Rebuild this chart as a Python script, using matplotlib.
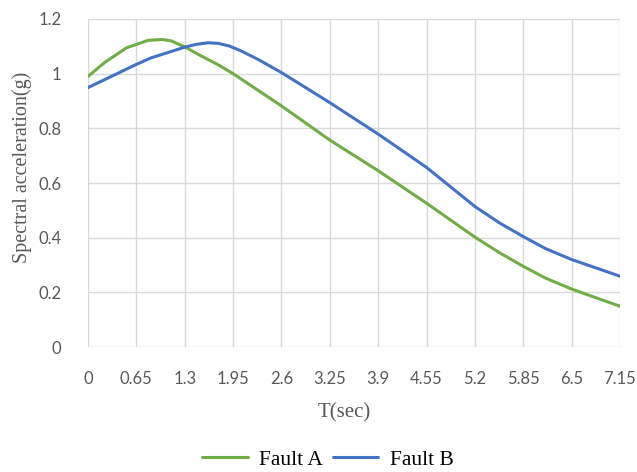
import numpy as np
import matplotlib.pyplot as plt

# periods (sec) and spectral accelerations (g)
t_a = [0, 0.22, 0.52, 0.65, 0.81, 1.0, 1.12, 1.3, 1.52, 1.74, 1.95, 2.6,
       3.25, 3.9, 4.55, 5.2, 5.53, 5.85, 6.15, 6.5, 7.15]
fault_a = [0.99, 1.04, 1.095, 1.107, 1.122, 1.125, 1.12, 1.098, 1.065, 1.034,
           1.0, 0.882, 0.757, 0.645, 0.526, 0.402, 0.345, 0.295, 0.252, 0.212, 0.149]

t_b = [0, 0.65, 0.85, 1.3, 1.45, 1.61, 1.75, 1.9, 2.06, 2.3, 2.6, 3.25, 3.9,
       4.55, 5.2, 5.53, 5.85, 6.15, 6.5, 7.15]
fault_b = [0.949, 1.034, 1.058, 1.097, 1.107, 1.113, 1.111, 1.101, 1.083, 1.05,
           1.004, 0.894, 0.779, 0.657, 0.514, 0.454, 0.404, 0.36, 0.32, 0.259]

xticks = [0, 0.65, 1.3, 1.95, 2.6, 3.25, 3.9, 4.55, 5.2, 5.85, 6.5, 7.15]
xtick_labels = ['0', '0.65', '1.3', '1.95', '2.6', '3.25', '3.9', '4.55', '5.2',
                '5.85', '6.5', '7.15']
yticks = [0, 0.2, 0.4, 0.6, 0.8, 1, 1.2]
ytick_labels = ['0', '0.2', '0.4', '0.6', '0.8', '1', '1.2']

W, H = 637, 472
fig = plt.figure(figsize=(W / 100, H / 100), dpi=100)
ax = fig.add_axes([88 / W, 1 - 347 / H, 532 / W, 328 / H])

ax.plot(t_a, fault_a, color='#70AD47', lw=2.2, label='Fault A',
        solid_joinstyle='round', solid_capstyle='round')
ax.plot(t_b, fault_b, color='#4472C4', lw=2.2, label='Fault B',
        solid_joinstyle='round', solid_capstyle='round')

ax.set_xlim(0, 7.15)
ax.set_ylim(0, 1.2)
ax.set_xticks(xticks)
ax.set_xticklabels(xtick_labels)
ax.set_yticks(yticks)
ax.set_yticklabels(ytick_labels)
ax.grid(True, color='#D9D9D9', lw=1.0)
ax.set_axisbelow(True)
for s in ax.spines.values():
    s.set_visible(False)
ax.tick_params(length=0, labelsize=12, labelcolor='#595959')
ax.tick_params(axis='x', pad=17)
ax.tick_params(axis='y', pad=19)
for lab in ax.get_xticklabels() + ax.get_yticklabels():
    lab.set_family('Lato')

fig.text(344 / W, 1 - 413 / H, 'T(sec)', family='Liberation Serif', fontsize=15,
         color='#595959', ha='center', va='center')
fig.text(22 / W, 1 - 167 / H, 'Spectral acceleration(g)', family='Liberation Serif',
         fontsize=14.5, color='#595959', ha='center', va='center', rotation=90)

fig.legend(loc='center', bbox_to_anchor=(328 / W, 1 - 460 / H), ncol=2,
           frameon=False, prop={'family': 'Liberation Serif', 'size': 15.5},
           handlelength=2.1, columnspacing=0.45, handletextpad=0.55,
           borderpad=0, borderaxespad=0)

fig.savefig('out.png', dpi=100)
